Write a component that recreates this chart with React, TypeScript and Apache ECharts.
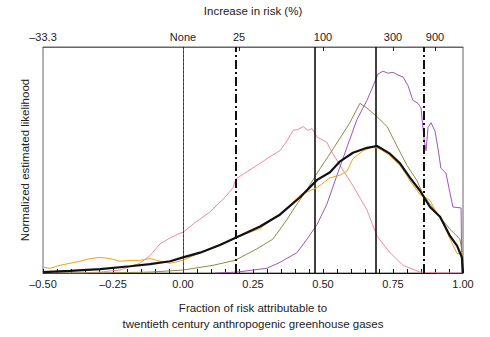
import React, { useEffect, useRef } from "react";
import * as echarts from "echarts";

// Curves: [fraction of risk, normalized likelihood]
const pinkCurve = [
  [-0.5, 0], [-0.368, 0], [-0.296, 0.004], [-0.225, 0.013], [-0.154, 0.043], [-0.118, 0.077],
  [-0.082, 0.129], [-0.046, 0.155], [-0.011, 0.176], [0, 0.18], [0.043, 0.223], [0.096, 0.27],
  [0.15, 0.335], [0.179, 0.378], [0.189, 0.416], [0.221, 0.442], [0.275, 0.485], [0.311, 0.515],
  [0.346, 0.541], [0.371, 0.584], [0.393, 0.631], [0.411, 0.635], [0.429, 0.648], [0.446, 0.631],
  [0.461, 0.639], [0.479, 0.601], [0.514, 0.579], [0.525, 0.549], [0.561, 0.476], [0.607, 0.386],
  [0.657, 0.279], [0.693, 0.163], [0.739, 0.09], [0.786, 0.034], [0.846, 0.004], [0.918, 0], [1.0, 0],
];

const oliveCurve = [
  [-0.5, 0], [-0.296, 0], [-0.118, 0.004], [0, 0.013], [0.107, 0.034], [0.186, 0.056],
  [0.264, 0.107], [0.321, 0.15], [0.371, 0.236], [0.407, 0.305], [0.443, 0.369], [0.479, 0.442],
  [0.536, 0.549], [0.596, 0.665], [0.632, 0.751], [0.657, 0.73], [0.693, 0.691], [0.729, 0.648],
  [0.764, 0.562], [0.8, 0.476], [0.836, 0.408], [0.857, 0.348], [0.907, 0.262], [0.954, 0.193],
  [0.989, 0.15], [0.996, 0.099], [1.0, 0],
];

const purpleCurve = [
  [0.114, 0], [0.193, 0.004], [0.3, 0.021], [0.346, 0.047], [0.407, 0.09], [0.443, 0.15],
  [0.479, 0.215], [0.514, 0.305], [0.55, 0.433], [0.586, 0.558], [0.621, 0.678], [0.657, 0.764],
  [0.679, 0.828], [0.696, 0.88], [0.714, 0.893], [0.732, 0.884], [0.75, 0.888], [0.768, 0.876],
  [0.786, 0.867], [0.804, 0.828], [0.821, 0.764], [0.839, 0.751], [0.85, 0.73], [0.861, 0.592],
  [0.868, 0.541], [0.875, 0.644], [0.886, 0.665], [0.9, 0.627], [0.911, 0.549], [0.921, 0.464],
  [0.939, 0.442], [0.954, 0.352], [0.964, 0.292], [0.993, 0.288], [0.996, 0],
];

const orangeCurve = [
  [-0.5, 0.026], [-0.475, 0.021], [-0.439, 0.034], [-0.404, 0.043], [-0.368, 0.052], [-0.332, 0.064],
  [-0.296, 0.069], [-0.261, 0.064], [-0.225, 0.052], [-0.189, 0.056], [-0.154, 0.056], [-0.118, 0.064],
  [-0.082, 0.052], [-0.046, 0.043], [0, 0.056], [0.061, 0.09], [0.186, 0.155], [0.275, 0.197],
  [0.346, 0.262], [0.393, 0.313], [0.418, 0.343], [0.454, 0.365], [0.479, 0.378], [0.525, 0.421],
  [0.561, 0.433], [0.586, 0.451], [0.607, 0.506], [0.643, 0.541], [0.679, 0.558], [0.704, 0.549],
  [0.739, 0.519], [0.775, 0.476], [0.811, 0.408], [0.846, 0.348], [0.882, 0.322], [0.9, 0.279],
  [0.918, 0.249], [0.954, 0.15], [0.979, 0.086], [0.996, 0.09], [1.0, 0],
];

const blackCurve = [
  [-0.5, 0.004], [-0.404, 0.009], [-0.296, 0.017], [-0.189, 0.03], [-0.118, 0.039], [-0.046, 0.052],
  [0, 0.069], [0.061, 0.09], [0.132, 0.124], [0.186, 0.155], [0.275, 0.206], [0.346, 0.258],
  [0.418, 0.335], [0.479, 0.412], [0.525, 0.446], [0.561, 0.494], [0.607, 0.532], [0.657, 0.554],
  [0.693, 0.562], [0.739, 0.528], [0.775, 0.485], [0.811, 0.421], [0.846, 0.365], [0.882, 0.292],
  [0.918, 0.249], [0.954, 0.163], [0.979, 0.12], [0.996, 0.069], [1.0, 0],
];

// Reference lines (fraction of risk)
const dottedLines = [0];
const dashDotLines = [0.186, 0.864];
const solidLines = [0.475, 0.693];

// Top axis: increase in risk (%)
const topTickValues = [-0.5, 0, 0.2, 0.5, 0.75, 0.9];
const topTickLabels = ["\u201333.3", "None", "25", "100", "300", "900"];
const topTickMarks = [0.2, 0.5, 0.75, 0.9];

const FONT = "Liberation Sans";

export default function App() {
  const ref = useRef<HTMLDivElement>(null);
  useEffect(() => {
    document.body.style.margin = "0";
    if (!ref.current) return;
    const chart = echarts.init(ref.current, undefined, { renderer: "svg" });
    const fmtBottom = (v: number) => {
      if (Math.abs(v * 4 - Math.round(v * 4)) > 1e-6) return "";
      return (v < 0 ? "\u2013" : "") + Math.abs(v).toFixed(2);
    };
    const markData: any[] = [];
    dottedLines.forEach((x) =>
      markData.push({ xAxis: x, lineStyle: { color: "#333", width: 1, type: [2, 2] } })
    );
    dashDotLines.forEach((x) =>
      markData.push({ xAxis: x, lineStyle: { color: "#111", width: 2, type: [9, 3, 2, 3] } })
    );
    solidLines.forEach((x) =>
      markData.push({ xAxis: x, lineStyle: { color: "#111", width: 1.6, type: "solid" } })
    );
    const line = (name: string, data: number[][], color: string, width: number, z: number) => ({
      name,
      type: "line",
      data,
      showSymbol: false,
      symbol: "none",
      z,
      lineStyle: { color, width },
    });
    chart.setOption({
      animation: false,
      textStyle: { fontFamily: FONT },
      grid: {
        left: 43,
        right: 27,
        top: 45,
        bottom: 59,
        show: true,
        borderColor: "#666",
        borderWidth: 1,
      },
      xAxis: [
        {
          type: "value",
          position: "bottom",
          min: -0.5,
          max: 1,
          interval: 0.05,
          name: "Fraction of risk attributable to\ntwentieth century anthropogenic greenhouse gases",
          nameLocation: "middle",
          nameGap: 27,
          nameTextStyle: { fontSize: 11.5, color: "#222", lineHeight: 16, fontFamily: FONT },
          axisLine: { show: true, lineStyle: { color: "#111", width: 1 } },
          axisTick: { show: true, inside: true, length: 4, lineStyle: { color: "#111" } },
          splitLine: { show: false },
          axisLabel: {
            fontSize: 11,
            color: "#222",
            margin: 5,
            formatter: fmtBottom,
            fontFamily: FONT,
            showMinLabel: true,
            showMaxLabel: true,
            interval: 0,
          },
        },
        {
          type: "value",
          position: "top",
          min: -0.5,
          max: 1,
          name: "Increase in risk (%)",
          nameLocation: "middle",
          nameGap: 30,
          nameTextStyle: { fontSize: 11.5, color: "#222", fontFamily: FONT },
          axisLine: { show: true, lineStyle: { color: "#666", width: 1 } },
          axisTick: {
            show: true,
            inside: true,
            length: 4,
            customValues: topTickMarks,
            lineStyle: { color: "#222" },
          },
          splitLine: { show: false },
          axisLabel: {
            fontSize: 11,
            color: "#222",
            margin: 5,
            customValues: topTickValues,
            formatter: (v: number) => {
              const i = topTickValues.findIndex((t) => Math.abs(t - v) < 1e-6);
              return i >= 0 ? topTickLabels[i] : "";
            },
            fontFamily: FONT,
          },
        },
      ],
      yAxis: {
        type: "value",
        min: 0,
        max: 1,
        name: "Normalized estimated likelihood",
        nameLocation: "middle",
        nameGap: 12,
        nameRotate: 90,
        nameTextStyle: { fontSize: 11.5, color: "#222", fontFamily: FONT },
        axisLine: { show: true, lineStyle: { color: "#666" } },
        axisTick: { show: false },
        axisLabel: { show: false },
        splitLine: { show: false },
      },
      series: [
        line("pink", pinkCurve, "#f28a9c", 1, 2),
        line("olive", oliveCurve, "#8e8a45", 1, 3),
        line("purple", purpleCurve, "#a055b3", 1, 4),
        line("orange", orangeCurve, "#f0a318", 1, 5),
        {
          ...line("black", blackCurve, "#111", 2.2, 6),
          markLine: {
            silent: true,
            symbol: "none",
            label: { show: false },
            data: markData,
          },
        },
      ],
    });
    return () => chart.dispose();
  }, []);
  return <div ref={ref} style={{ width: 490, height: 337 }} />;
}
